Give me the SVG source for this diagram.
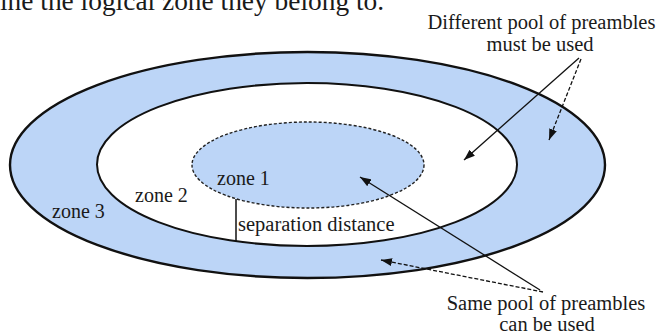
<svg xmlns="http://www.w3.org/2000/svg" width="664" height="335" viewBox="0 0 664 335">
<defs>
<style>
.t{font-family:"Liberation Serif","Times New Roman",serif;fill:#1a1a1a}
.z{font-size:20px}
.l{font-size:20.5px}
.solid{fill:none;stroke:#111;stroke-width:1.3}
.dash{fill:none;stroke:#111;stroke-width:1.3;stroke-dasharray:4 2}
</style>
<marker id="ah" viewBox="0 0 11 8" refX="11" refY="4" markerWidth="11" markerHeight="8" markerUnits="userSpaceOnUse" orient="auto">
<path d="M0,0 L11,4 L0,8 Z" fill="#111"/>
</marker>
</defs>
<rect width="664" height="335" fill="#fff"/>
<text class="t" x="0" y="10" font-size="27.4">ine the logical zone they belong to.</text>
<g id="zone3">
<ellipse cx="307.5" cy="165" rx="297.5" ry="113" fill="#bcd5f7" stroke="#111" stroke-width="2.4"/>
</g>
<g id="zone2">
<ellipse cx="307" cy="164.5" rx="210" ry="81.5" fill="#fff" stroke="#111" stroke-width="2"/>
</g>
<g id="zone1">
<ellipse cx="308" cy="165" rx="116" ry="43" fill="#bcd5f7" stroke="#222" stroke-width="1.4" stroke-dasharray="3 2"/>
</g>
<g id="separation">
<line x1="236" y1="199" x2="236" y2="242" stroke="#111" stroke-width="1.5"/>
<text class="t l" x="238" y="231">separation distance</text>
</g>
<g id="labels">
<text class="t z" x="217" y="185">zone 1</text>
<text class="t z" x="135" y="202">zone 2</text>
<text class="t z" x="52" y="218">zone 3</text>
</g>
<g id="note-different">
<text class="t l" x="541.5" y="29" text-anchor="middle">Different pool of preambles</text>
<text class="t l" x="540" y="51" text-anchor="middle">must be used</text>
</g>
<g id="note-same">
<text class="t l" x="546" y="310" text-anchor="middle">Same pool of preambles</text>
<text class="t l" x="547" y="331" text-anchor="middle">can be used</text>
</g>
<g id="connectors">
<line class="solid" x1="579" y1="58" x2="464" y2="160" marker-end="url(#ah)"/>
<line class="dash" x1="581" y1="59" x2="549" y2="140" marker-end="url(#ah)"/>
<line class="solid" x1="540" y1="290" x2="360" y2="177" marker-end="url(#ah)"/>
<line class="dash" x1="543" y1="292" x2="381" y2="260" marker-end="url(#ah)"/>
</g>
</svg>
